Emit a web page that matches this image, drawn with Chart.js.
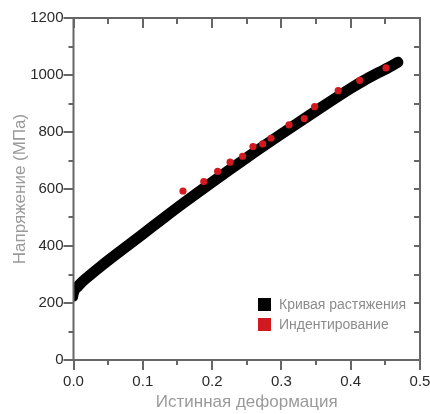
<!DOCTYPE html>
<html><head><meta charset="utf-8">
<script src="https://cdn.jsdelivr.net/npm/chart.js@4/dist/chart.umd.min.js"></script>
<style>html,body{margin:0;padding:0;background:#fff}#wrap{width:430px;height:414px}</style>
</head><body><div id="wrap"><canvas id="c" width="430" height="414"></canvas></div>
<script>
// ---- data ----
const tensileStrain = [0, 0.001, 0.003, 0.006, 0.01, 0.02, 0.04, 0.06, 0.08, 0.1, 0.13, 0.16, 0.2, 0.25, 0.3, 0.35, 0.4, 0.42, 0.44, 0.455, 0.468];
const tensileStress = [220, 232, 245, 257, 268, 290, 330, 368, 405, 442, 498, 553, 624, 710, 793, 874, 953, 982, 1008, 1027, 1045];
const indentStrain = [0.158, 0.188, 0.208, 0.226, 0.244, 0.259, 0.273, 0.285, 0.311, 0.333, 0.348, 0.382, 0.413, 0.451];
const indentStress = [593, 626, 662, 694, 715, 749, 758, 778, 825, 847, 889, 945, 981, 1025];
const seriesLabels = ['Кривая растяжения', 'Индентирование'];
const xTitle = 'Истинная деформация';
const yTitle = 'Напряжение (МПа)';
const xRange = [0, 0.5];
const yRange = [0, 1200];

const BLACK = '#000000', RED = '#d11920', FRAME = '#666666';
const FONT = '"Liberation Sans", Arial, sans-serif';
const tensilePts = tensileStrain.map((x, i) => ({x, y: tensileStress[i]}));
const indentPts = indentStrain.map((x, i) => ({x, y: indentStress[i]}));

const framePlugin = {
  id: 'frameTicks',
  afterDraw(chart) {
    const {ctx, chartArea: a, scales: {x, y}} = chart;
    ctx.save();
    ctx.strokeStyle = FRAME;
    ctx.lineWidth = 2;
    ctx.beginPath();
    for (let v = yRange[0]; v <= yRange[1] + 1e-9; v += 100) {
      const py = Math.round(y.getPixelForValue(v));
      const major = Math.round(v) % 200 === 0;
      const len = major ? 10 : 5;
      ctx.moveTo(a.left - len, py); ctx.lineTo(a.left, py);
      ctx.moveTo(a.right - 6, py); ctx.lineTo(a.right, py);
    }
    for (let k = 0; k <= 10; k++) {
      const v = k * 0.05;
      const px = Math.round(x.getPixelForValue(v));
      const major = k % 2 === 0;
      ctx.moveTo(px, a.bottom); ctx.lineTo(px, a.bottom + (major ? 10 : 5));
      ctx.moveTo(px, a.top); ctx.lineTo(px, a.top + (major ? 10 : 6));
    }
    ctx.stroke();
    ctx.strokeRect(a.left, a.top, a.right - a.left, a.bottom - a.top);
    ctx.restore();

    // legend inside chart area
    ctx.save();
    ctx.font = '14px ' + FONT;
    ctx.textBaseline = 'middle';
    const colors = [BLACK, RED];
    seriesLabels.forEach((lab, i) => {
      const top = 298 + i * 20;
      ctx.fillStyle = colors[i];
      ctx.fillRect(258, top, 13, 13);
      ctx.fillStyle = '#8c8c8c';
      ctx.fillText(lab, 279, top + 7);
    });
    ctx.restore();
  }
};

const zeroPad = s => { s.paddingLeft = 0; s.paddingRight = 0; s.paddingTop = 0; s.paddingBottom = 0; };

new Chart(document.getElementById('c'), {
  type: 'scatter',
  data: {
    datasets: [
      {
        label: seriesLabels[0], data: tensilePts, showLine: true, order: 1,
        borderColor: BLACK, backgroundColor: BLACK, borderWidth: 11,
        borderCapStyle: 'round', borderJoinStyle: 'round',
        pointRadius: 0, cubicInterpolationMode: 'monotone',
        segment: { borderWidth: c => (c.p1DataIndex <= 3 ? 9 : 11) }
      },
      {
        label: seriesLabels[1], data: indentPts, showLine: false, order: 0,
        backgroundColor: RED, borderColor: RED, borderWidth: 0,
        pointRadius: 3.6, pointHoverRadius: 3.6
      }
    ]
  },
  options: {
    responsive: false, animation: false, devicePixelRatio: 1,
    layout: { padding: { top: 18, right: 10, left: 0, bottom: 0 } },
    plugins: { legend: { display: false }, tooltip: { enabled: false } },
    scales: {
      x: {
        type: 'linear', min: xRange[0], max: xRange[1],
        grid: { display: false, drawTicks: false }, border: { display: false },
        ticks: { stepSize: 0.1, padding: 13, color: '#2a2a2a', maxRotation: 0,
          font: { family: FONT, size: 15 },
          callback: v => Number(v).toFixed(1) },
        title: { display: true, text: xTitle, color: '#9a9a9a', padding: { top: 0, bottom: 1 },
          font: { family: FONT, size: 17 } },
        afterFit: s => { s.height = 54; zeroPad(s); }
      },
      y: {
        type: 'linear', min: yRange[0], max: yRange[1],
        grid: { display: false, drawTicks: false }, border: { display: false },
        ticks: { stepSize: 200, padding: 10, color: '#2a2a2a',
          font: { family: FONT, size: 15 }, callback: v => String(v) },
        title: { display: true, text: yTitle, color: '#9a9a9a', padding: { top: 10, bottom: 0 },
          font: { family: FONT, size: 17 } },
        afterFit: s => { s.width = 73.5; zeroPad(s); }
      }
    }
  },
  plugins: [framePlugin]
});
</script>
</body></html>
